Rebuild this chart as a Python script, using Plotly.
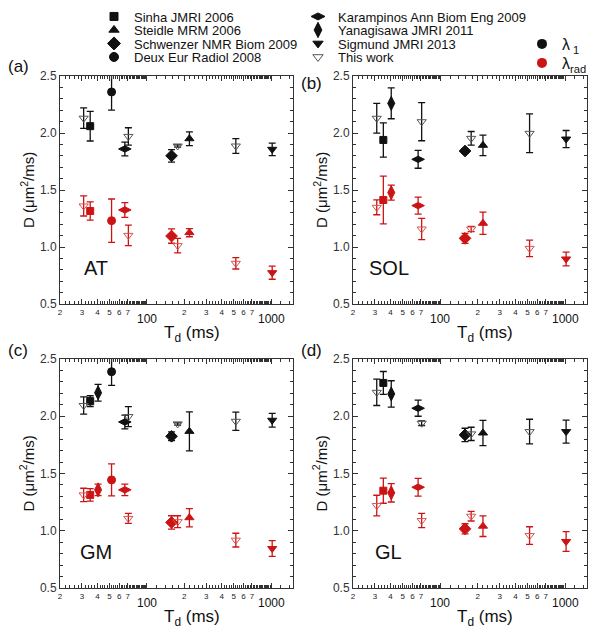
import math
import plotly.graph_objects as go

# the page body keeps its default 8px margin, so the figure is shifted by OFF
OFF = 8
W, H = 603 - OFF, 634 - OFF
FONT = "Arial, Liberation Sans, Helvetica, sans-serif"
BLACK = "#111111"
RED = "#cc1414"
TW_BLACK = "#555555"
TW_RED = "#d9534f"

# studies, legend order and marker symbols
STUDIES = ["Sinha JMRI 2006", "Steidle MRM 2006", "Schwenzer NMR Biom 2009",
           "Deux Eur Radiol 2008", "Karampinos Ann Biom Eng 2009",
           "Yanagisawa JMRI 2011", "Sigmund JMRI 2013", "This work"]
SYMBOLS = ["square", "triangle-up", "diamond", "circle", "diamond-wide",
           "diamond-tall", "triangle-down", "triangle-down-open"]
SIZES = [7, 8, 9, 8, 9, 10, 8, 8]

# one entry per plotted diffusion time (study, Td in ms)
PT_STUDY = ["This work", "Sinha JMRI 2006", "Yanagisawa JMRI 2011", "Deux Eur Radiol 2008",
            "Karampinos Ann Biom Eng 2009", "This work", "Schwenzer NMR Biom 2009",
            "This work", "Steidle MRM 2006", "This work", "Sigmund JMRI 2013"]
PT_TD = [31, 35, 40.5, 52, 66.5, 71, 158, 177, 220, 520, 1020]

# AT
AT_L1 = [2.13, 2.06, None, 2.36, 1.86, 1.97, 1.80, 1.886, 1.95, 1.886, 1.857]
AT_L1_ERR = [0.09, 0.13, None, 0.16, 0.06, 0.076, 0.055, 0.01, 0.06, 0.065, 0.055]
AT_RAD = [1.36, 1.316, None, 1.231, 1.325, 1.102, 1.096, 1.012, 1.126, 0.857, 0.775]
AT_RAD_ERR = [0.088, 0.08, None, 0.19, 0.065, 0.09, 0.063, 0.063, 0.036, 0.05, 0.058]
# SOL
SOL_L1 = [2.129, 1.939, 2.26, None, 1.769, 2.099, 1.842, 1.953, 1.892, 1.997, 1.947]
SOL_L1_ERR = [0.13, 0.15, 0.135, None, 0.078, 0.167, 0.02, 0.06, 0.09, 0.17, 0.075]
SOL_RAD = [1.348, 1.412, 1.477, None, 1.363, 1.158, 1.076, 1.158, 1.208, 0.988, 0.895]
SOL_RAD_ERR = [0.065, 0.21, 0.066, None, 0.075, 0.093, 0.044, 0.023, 0.098, 0.072, 0.06]
# GM
GM_L1 = [2.094, 2.132, 2.205, 2.389, 1.950, 1.997, 1.825, 1.933, 1.868, 1.956, 1.965]
GM_L1_ERR = [0.076, 0.047, 0.073, 0.12, 0.06, 0.087, 0.038, 0.01, 0.17, 0.08, 0.06]
GM_RAD = [1.313, 1.313, 1.357, 1.444, 1.357, 1.108, 1.073, 1.079, 1.114, 0.918, 0.845]
GM_RAD_ERR = [0.058, 0.055, 0.05, 0.14, 0.05, 0.044, 0.058, 0.052, 0.08, 0.06, 0.068]
# GL
GL_L1 = [2.209, 2.291, 2.195, None, 2.070, 1.939, 1.837, 1.846, 1.854, 1.866, 1.866]
GL_L1_ERR = [0.115, 0.1, 0.115, None, 0.07, 0.02, 0.058, 0.058, 0.11, 0.108, 0.1]
GL_RAD = [1.220, 1.35, 1.331, None, 1.380, 1.089, 1.017, 1.127, 1.040, 0.958, 0.906]
GL_RAD_ERR = [0.09, 0.11, 0.08, None, 0.078, 0.062, 0.044, 0.042, 0.09, 0.077, 0.087]

X_TICKS = [20, 30, 40, 50, 60, 70, 100, 200, 300, 400, 500, 600, 700, 1000]
X_TICK_TEXT = ["2", "3", "4", "5", "6", "7", "", "2", "3", "4", "5", "6", "7", ""]
X_MINOR = [v for v in list(range(22, 100, 2)) + list(range(120, 1000, 20)) + [1200, 1400]
           if v not in X_TICKS]

# panel: letter, muscle, data, box in window pixels (left, right, top, bottom)
PANELS = [
    ("(a)", "AT", AT_L1, AT_L1_ERR, AT_RAD, AT_RAD_ERR, (60, 293, 76, 304)),
    ("(b)", "SOL", SOL_L1, SOL_L1_ERR, SOL_RAD, SOL_RAD_ERR, (353, 587, 76, 304)),
    ("(c)", "GM", GM_L1, GM_L1_ERR, GM_RAD, GM_RAD_ERR, (60, 293, 359, 588)),
    ("(d)", "GL", GL_L1, GL_L1_ERR, GL_RAD, GL_RAD_ERR, (353, 587, 359, 588)),
]


def fx(px):
    return (px - OFF) / W


def fy(py):
    return 1 - (py - OFF) / H


def note(x, y, text, size, **kw):
    d = dict(x=x, y=y, xref="paper", yref="paper", text=text, showarrow=False,
             xanchor="center", yanchor="middle",
             font=dict(size=size, color="#111", family=FONT))
    d.update(kw)
    return d


fig = go.Figure()
layout = {}
annotations = []

for k, (letter, muscle, l1, l1e, rad, rade, box) in enumerate(PANELS):
    n = "" if k == 0 else str(k + 1)
    xa, ya = "x" + n, "y" + n
    left, right, top, bottom = box

    for si, study in enumerate(STUDIES):
        tw = study == "This work"
        for vals, errs, col, twcol in ((l1, l1e, BLACK, TW_BLACK), (rad, rade, RED, TW_RED)):
            idx = [i for i, s in enumerate(PT_STUDY) if s == study and vals[i] is not None]
            if not idx:
                continue
            fig.add_trace(go.Scatter(
                x=[PT_TD[i] for i in idx], y=[vals[i] for i in idx],
                mode="markers", xaxis=xa, yaxis=ya, showlegend=False,
                marker=dict(symbol=SYMBOLS[si], size=SIZES[si],
                            color=twcol if tw else col,
                            line=dict(width=1, color=twcol if tw else col)),
                error_y=dict(type="data", array=[errs[i] for i in idx],
                             color=col, thickness=1.3, width=3.5),
            ))

    axcommon = dict(showline=True, linecolor="#333", linewidth=1, mirror="ticks",
                    ticks="inside", tickcolor="#333", showgrid=False, zeroline=False)
    layout["xaxis" + n] = dict(
        axcommon, type="log", range=[math.log10(20), math.log10(1500)],
        domain=[fx(left), fx(right)], anchor=ya,
        tickvals=X_TICKS, ticktext=X_TICK_TEXT, ticklen=5, tickangle=0,
        tickfont=dict(size=8, color="#222", family=FONT),
        minor=dict(tickvals=X_MINOR, ticks="inside", ticklen=3, tickcolor="#333"),
    )
    layout["yaxis" + n] = dict(
        axcommon, range=[0.5, 2.5], domain=[fy(bottom), fy(top)], anchor=xa,
        tick0=0.5, dtick=0.5, tickformat=".1f", ticklen=5,
        tickfont=dict(size=12, color="#333", family=FONT),
        minor=dict(dtick=0.1, ticks="inside", ticklen=3, tickcolor="#333"),
    )

    # decade labels under the small digits
    for dec, txt in ((2, "100"), (3, "1000")):
        annotations.append(note(dec, fy(bottom + 15), txt, 12, xref=xa))
    annotations.append(note(fx(left + 132), fy(bottom + 30), "T<sub>d</sub> (ms)", 17))
    annotations.append(note(fx(left - 33), fy((top + bottom) / 2),
                            "D (\u03bcm<sup>2</sup>/ms)", 15, textangle=-90))
    annotations.append(note(fx(left - 42), fy(top - 9 if k != 1 else top + 7), letter, 17))
    annotations.append(note(fx(left + 36), fy(bottom - 36), muscle, 20))

# legend: one single-entry legend per row so the rows can sit close together
legfont = dict(size=13, color="#111", family=FONT)
legends = {}
for si, study in enumerate(STUDIES):
    tw = study == "This work"
    lid = "legend" if si == 0 else "legend%d" % (si + 1)
    col_x = 94 if si < 4 else 298
    row_y = 16.5 + 13.5 * (si % 4)
    legends[lid] = dict(x=fx(col_x), y=fy(row_y - 15), xanchor="left", yanchor="top",
                        font=legfont, bgcolor="rgba(0,0,0,0)", itemwidth=30)
    fig.add_trace(go.Scatter(
        x=[None], y=[None], mode="markers", name=study, legend=lid,
        marker=dict(symbol=SYMBOLS[si], size=SIZES[si] + 1,
                    color=TW_BLACK if tw else BLACK, line=dict(width=1, color=TW_BLACK if tw else BLACK)),
    ))
for j, (name, col) in enumerate((("\u03bb<sub> 1</sub>", BLACK), ("\u03bb<sub>rad</sub>", RED))):
    lid = "legend%d" % (len(STUDIES) + 1 + j)
    legends[lid] = dict(x=fx(522), y=fy(44 + 19 * j - 17), xanchor="left", yanchor="top",
                        font=dict(size=16, color="#111", family=FONT),
                        bgcolor="rgba(0,0,0,0)", itemwidth=30)
    fig.add_trace(go.Scatter(x=[None], y=[None], mode="markers", name=name, legend=lid,
                             marker=dict(symbol="circle", size=10, color=col)))

fig.update_layout(
    width=W, height=H, margin=dict(l=0, r=0, t=0, b=0, autoexpand=False),
    paper_bgcolor="white", plot_bgcolor="white",
    font=dict(family=FONT),
    annotations=annotations,
    **legends,
    **layout,
)

fig.write_html("out.html")
